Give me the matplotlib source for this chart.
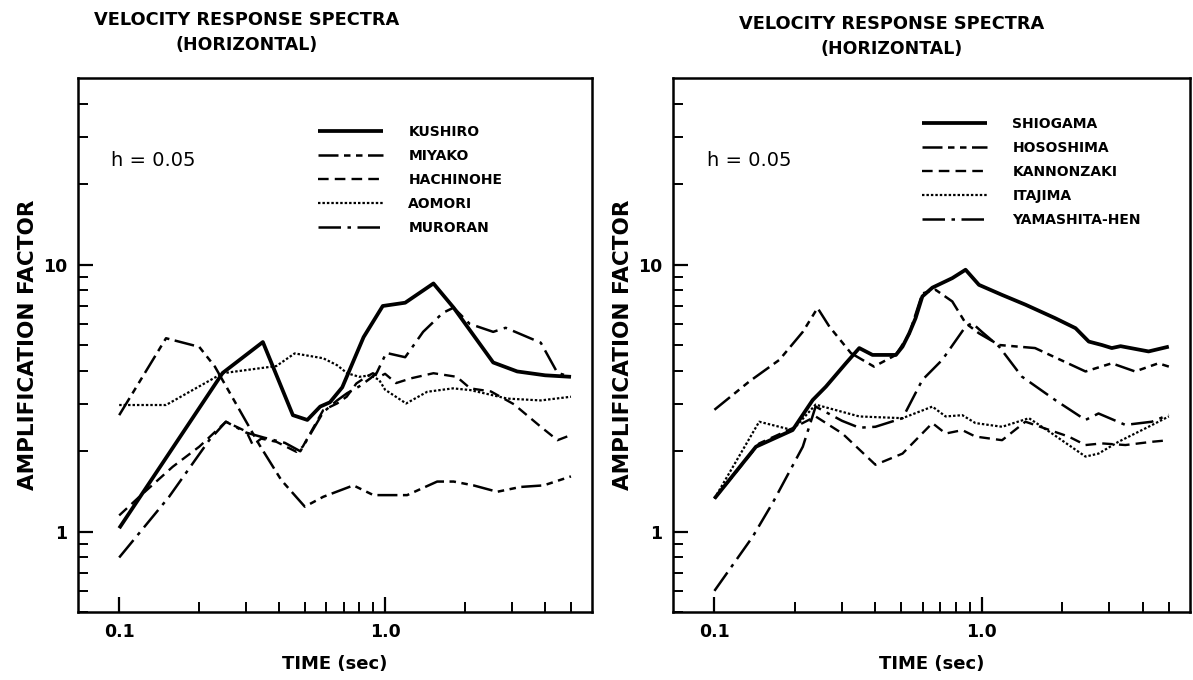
import matplotlib
matplotlib.use("Agg")
import matplotlib.pyplot as plt
from matplotlib.ticker import FixedLocator, NullFormatter

plt.rcParams['font.family'] = ['DejaVu Sans']

# ---- left panel: Hokkaido / Tohoku stations ----
kushiro_t = [0.1, 0.245, 0.347, 0.45, 0.51, 0.57, 0.62, 0.69, 0.83, 0.98, 1.19, 1.52, 1.81, 2.55, 3.14, 4.0, 5.0]
kushiro_a = [1.03, 3.93, 5.13, 2.73, 2.62, 2.94, 3.05, 3.47, 5.35, 7.0, 7.2, 8.5, 6.9, 4.3, 3.98, 3.85, 3.8]

miyako_t = [0.1, 0.15, 0.2, 0.229, 0.337, 0.407, 0.499, 0.585, 0.76, 0.904, 1.21, 1.57, 1.81, 2.15, 2.64, 3.23, 3.95, 5.0]
miyako_a = [2.73, 5.3, 4.92, 4.15, 2.11, 1.56, 1.24, 1.35, 1.49, 1.37, 1.37, 1.54, 1.54, 1.49, 1.41, 1.47, 1.49, 1.61]

hachinohe_t = [0.1, 0.119, 0.159, 0.2, 0.252, 0.301, 0.318, 0.342, 0.39, 0.464, 0.49, 0.585, 0.66, 0.717, 0.78,
               0.85, 0.9, 0.95, 1.0, 1.1, 1.25, 1.52, 1.86, 2.09, 2.5, 3.05, 3.85, 4.45, 5.0]
hachinohe_a = [1.15, 1.35, 1.75, 2.08, 2.58, 2.37, 2.11, 2.23, 2.17, 1.99, 2.08, 2.85, 3.02, 3.2, 3.59,
               3.8, 3.92, 3.8, 3.9, 3.6, 3.75, 3.92, 3.8, 3.44, 3.35, 3.0, 2.47, 2.2, 2.3]

aomori_t = [0.1, 0.15, 0.245, 0.39, 0.457, 0.585, 0.66, 0.72, 0.8, 0.88, 0.95, 1.0, 1.2, 1.44, 1.8, 2.09, 2.88, 3.85, 5.0]
aomori_a = [2.98, 2.98, 3.92, 4.17, 4.65, 4.46, 4.2, 3.92, 3.8, 3.85, 3.7, 3.4, 3.02, 3.34, 3.44, 3.39, 3.15, 3.1, 3.2]

muroran_t = [0.1, 0.154, 0.218, 0.252, 0.3, 0.35, 0.42, 0.48, 0.585, 0.66, 0.72, 0.8, 0.88, 0.93, 1.01,
             1.19, 1.39, 1.65, 1.81, 2.08, 2.55, 2.84, 3.85, 4.45, 5.0]
muroran_a = [0.8, 1.35, 2.2, 2.58, 2.35, 2.25, 2.15, 2.0, 2.8, 3.1, 3.3, 3.5, 3.75, 3.93, 4.67,
             4.5, 5.6, 6.6, 6.9, 6.0, 5.6, 5.8, 5.1, 3.93, 3.8]

# ---- right panel: Tokyo Bay / Miyagi stations ----
shiogama_t = [0.1, 0.143, 0.196, 0.233, 0.261, 0.31, 0.348, 0.39, 0.477, 0.505, 0.535, 0.565, 0.599, 0.653,
              0.775, 0.869, 0.975, 1.19, 1.455, 1.88, 2.24, 2.51, 2.81, 3.06, 3.3, 4.2, 5.0]
shiogama_a = [1.33, 2.08, 2.4, 3.11, 3.49, 4.27, 4.87, 4.59, 4.59, 4.93, 5.53, 6.3, 7.6, 8.2,
              8.9, 9.57, 8.4, 7.7, 7.08, 6.3, 5.78, 5.15, 5.0, 4.87, 4.95, 4.73, 4.93]

hososhima_t = [0.1, 0.135, 0.175, 0.214, 0.243, 0.269, 0.324, 0.395, 0.477, 0.535, 0.599, 0.671, 0.775,
               0.869, 0.975, 1.16, 1.58, 2.44, 3.06, 3.74, 4.57, 5.0]
hososhima_a = [2.86, 3.65, 4.4, 5.6, 6.88, 5.86, 4.66, 4.15, 4.59, 5.5, 7.8, 8.05, 7.28,
               6.04, 5.53, 5.0, 4.87, 3.98, 4.27, 3.98, 4.27, 4.15]

kannonzaki_t = [0.1, 0.117, 0.147, 0.196, 0.239, 0.301, 0.4, 0.505, 0.653, 0.732, 0.845, 0.946, 1.19, 1.455,
                2.11, 2.44, 2.81, 3.44, 4.32, 5.0]
kannonzaki_a = [1.33, 1.61, 2.14, 2.44, 2.7, 2.33, 1.78, 1.96, 2.55, 2.33, 2.4, 2.27, 2.2, 2.58,
                2.27, 2.11, 2.14, 2.11, 2.17, 2.2]

itajima_t = [0.1, 0.147, 0.196, 0.239, 0.348, 0.505, 0.653, 0.732, 0.845, 0.946, 1.19, 1.5, 1.83, 2.44,
             2.73, 3.24, 4.2, 5.0]
itajima_a = [1.33, 2.58, 2.4, 2.99, 2.7, 2.66, 2.94, 2.7, 2.73, 2.55, 2.47, 2.66, 2.33, 1.91,
             1.96, 2.17, 2.47, 2.7]

yamashita_t = [0.1, 0.139, 0.165, 0.214, 0.239, 0.3, 0.348, 0.4, 0.505, 0.599, 0.711, 0.869, 0.92, 1.0,
               1.16, 1.41, 1.88, 2.44, 2.73, 3.44, 4.32, 5.0]
yamashita_a = [0.6, 0.957, 1.28, 2.08, 2.94, 2.6, 2.45, 2.47, 2.66, 3.7, 4.4, 5.86, 6.04, 5.6,
               4.93, 3.81, 3.11, 2.62, 2.77, 2.51, 2.58, 2.74]

# line styles shared by the two panels (solid, dash-short, dashed, dotted, dash-dot)
styles = [
    dict(linestyle='-', linewidth=2.7),
    dict(linestyle=(0, (8, 2.2, 2.6, 2.2, 2.6, 2.2)), linewidth=1.8),
    dict(linestyle=(0, (4.5, 2.6)), linewidth=1.7),
    dict(linestyle=(0, (1.1, 0.9)), linewidth=1.6),
    dict(linestyle=(0, (9, 2.6, 1.4, 2.6)), linewidth=1.8),
]

left_series = [
    ("KUSHIRO", kushiro_t, kushiro_a),
    ("MIYAKO", miyako_t, miyako_a),
    ("HACHINOHE", hachinohe_t, hachinohe_a),
    ("AOMORI", aomori_t, aomori_a),
    ("MURORAN", muroran_t, muroran_a),
]
right_series = [
    ("SHIOGAMA", shiogama_t, shiogama_a),
    ("HOSOSHIMA", hososhima_t, hososhima_a),
    ("KANNONZAKI", kannonzaki_t, kannonzaki_a),
    ("ITAJIMA", itajima_t, itajima_a),
    ("YAMASHITA-HEN", yamashita_t, yamashita_a),
]

x_major = [0.1, 1.0]
x_minor = [0.2, 0.3, 0.4, 0.5, 0.6, 0.7, 0.8, 0.9, 2, 3, 4, 5]
y_major = [1, 10]
y_minor = [0.5, 0.6, 0.7, 0.8, 0.9, 2, 3, 4, 5, 6, 7, 8, 9, 20, 30, 40]

fig = plt.figure(figsize=(11.93, 6.80), dpi=100)
ax_l = fig.add_axes([78 / 1193, 68 / 680, 514 / 1193, 534 / 680])
ax_r = fig.add_axes([673 / 1193, 68 / 680, 517 / 1193, 534 / 680])

def setup(ax, series, xlabels, legend_anchor):
    for (name, t, a), st in zip(series, styles):
        ax.plot(t, a, color='black', label=name, solid_capstyle='butt',
                dash_capstyle='butt', **st)
    ax.set_xscale('log')
    ax.set_yscale('log')
    ax.set_xlim(0.07, 6.0)
    ax.set_ylim(0.5, 50)
    ax.xaxis.set_major_locator(FixedLocator(x_major))
    ax.xaxis.set_minor_locator(FixedLocator(x_minor))
    ax.yaxis.set_major_locator(FixedLocator(y_major))
    ax.yaxis.set_minor_locator(FixedLocator(y_minor))
    ax.set_xticklabels(xlabels, fontsize=12.5, fontweight='bold')
    ax.set_yticklabels(['1', '10'], fontsize=12.5, fontweight='bold')
    ax.xaxis.set_minor_formatter(NullFormatter())
    ax.yaxis.set_minor_formatter(NullFormatter())
    ax.tick_params(which='major', direction='in', length=11, width=1.6, pad=8)
    ax.tick_params(which='minor', direction='in', length=7, width=1.4)
    ax.tick_params(top=False, right=False)
    for sp in ax.spines.values():
        sp.set_linewidth(1.8)
    ax.set_xlabel('TIME (sec)', fontsize=13, fontweight='bold', labelpad=10)
    ax.set_ylabel('AMPLIFICATION FACTOR', fontsize=15.5, fontweight='bold', labelpad=3)
    ax.text(0.065, 0.835, 'h = 0.05', transform=ax.transAxes, fontsize=14)
    leg = ax.legend(loc='upper left', bbox_to_anchor=legend_anchor, frameon=False,
                    handlelength=4.7, handletextpad=1.8, labelspacing=0.72,
                    borderpad=0, borderaxespad=0,
                    prop=dict(size=10, weight='bold'))
    for line in leg.get_lines():
        line.set_color('black')

setup(ax_l, left_series, ['0.1', '1.0'], (0.467, 0.912))
setup(ax_r, right_series, ['0.1', '1.0'], (0.482, 0.927))

fig.text(247 / 1193, 1 - 20 / 680, 'VELOCITY RESPONSE SPECTRA', ha='center', va='center',
         fontsize=12.8, fontweight='bold')
fig.text(247 / 1193, 1 - 45 / 680, '(HORIZONTAL)', ha='center', va='center',
         fontsize=12.5, fontweight='bold')
fig.text(892 / 1193, 1 - 24 / 680, 'VELOCITY RESPONSE SPECTRA', ha='center', va='center',
         fontsize=12.8, fontweight='bold')
fig.text(892 / 1193, 1 - 49 / 680, '(HORIZONTAL)', ha='center', va='center',
         fontsize=12.5, fontweight='bold')

fig.savefig('out.png', dpi=100, facecolor='white')
